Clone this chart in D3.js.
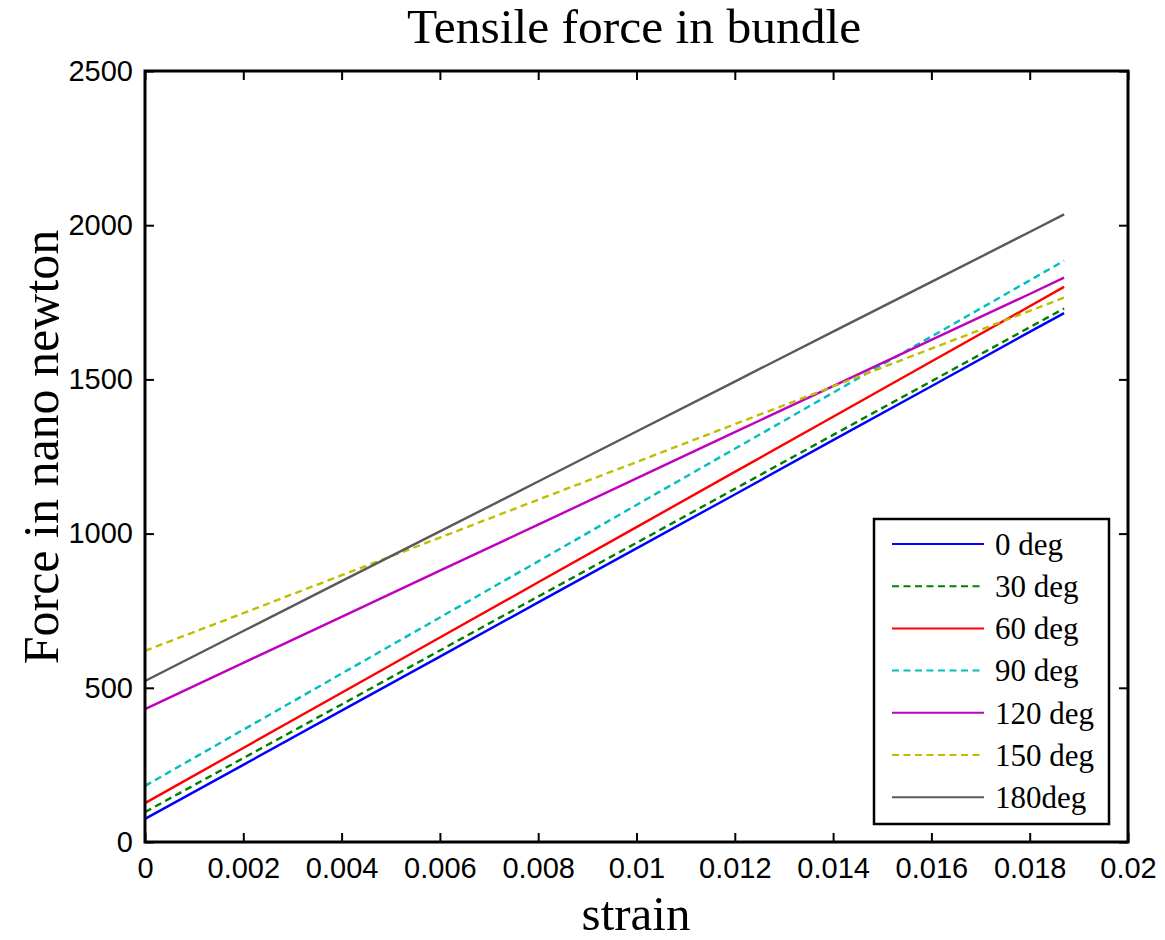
<!DOCTYPE html>
<html>
<head>
<meta charset="utf-8">
<script src="https://cdn.jsdelivr.net/npm/d3@7"></script>
<style>
  html, body { margin: 0; padding: 0; background: #fff; }
  svg { display: block; }
</style>
</head>
<body>
<svg id="chart" width="1165" height="940"></svg>
<script>
// ---- data ----
const strain = [0, 0.002, 0.004, 0.006, 0.008, 0.010, 0.012, 0.014, 0.016, 0.018, 0.0187];
const seriesNames = ["0 deg", "30 deg", "60 deg", "90 deg", "120 deg", "150 deg", "180deg"];
const deg0   = [75, 250, 426, 601, 777, 952, 1127, 1303, 1478, 1654, 1715];
const deg30  = [97, 272, 446, 621, 796, 970, 1145, 1320, 1494, 1669, 1730];
const deg60  = [126, 305, 484, 663, 842, 1021, 1200, 1379, 1558, 1737, 1800];
const deg90  = [182, 364, 546, 728, 910, 1093, 1275, 1457, 1639, 1821, 1885];
const deg120 = [431, 581, 730, 880, 1029, 1179, 1329, 1478, 1628, 1777, 1830];
const deg150 = [620, 742, 865, 987, 1110, 1232, 1355, 1477, 1600, 1722, 1765];
const deg180 = [522, 684, 846, 1007, 1169, 1331, 1493, 1655, 1816, 1978, 2035];
const xTicks = [0, 0.002, 0.004, 0.006, 0.008, 0.01, 0.012, 0.014, 0.016, 0.018, 0.02];
const xTickLabels = ["0", "0.002", "0.004", "0.006", "0.008", "0.01", "0.012", "0.014", "0.016", "0.018", "0.02"];
const yTicks = [0, 500, 1000, 1500, 2000, 2500];

const seriesValues = [deg0, deg30, deg60, deg90, deg120, deg150, deg180];
const colors = ["#0000ff", "#008000", "#ff0000", "#00bfbf", "#bf00bf", "#bfbf00", "#595959"];
const dashed = [false, true, false, true, false, true, false];

// ---- layout ----
const svg = d3.select("#chart");
const L = 145, R = 1128, T = 71, B = 842;
const x = d3.scaleLinear().domain([0, 0.02]).range([L, R]);
const y = d3.scaleLinear().domain([0, 2500]).range([B, T]);
const serif = "'Liberation Serif', 'Times New Roman', serif";
const sans = "'Liberation Sans', Arial, sans-serif";

// lines
const line = d3.line().x((d, i) => x(strain[i])).y(d => y(d));
const g = svg.append("g");
seriesValues.forEach((vals, k) => {
  g.append("path")
    .datum(vals)
    .attr("d", line)
    .attr("fill", "none")
    .attr("stroke", colors[k])
    .attr("stroke-width", 2.4)
    .attr("stroke-dasharray", dashed[k] ? "7,4.5" : null);
});

// axes (ticks inward, mirrored)
const tickLen = 9;
const axB = d3.axisBottom(x).tickValues(xTicks).tickSize(-tickLen).tickPadding(15)
  .tickFormat((d, i) => xTickLabels[i]);
const axT = d3.axisTop(x).tickValues(xTicks).tickSize(-tickLen).tickFormat("");
const axLft = d3.axisLeft(y).tickValues(yTicks).tickSize(-tickLen).tickPadding(12)
  .tickFormat(d3.format("d"));
const axRt = d3.axisRight(y).tickValues(yTicks).tickSize(-tickLen).tickFormat("");

function style(sel) {
  sel.select(".domain").remove();
  sel.selectAll(".tick line").attr("stroke", "#000").attr("stroke-width", 2);
  sel.selectAll(".tick text").attr("fill", "#000")
    .style("font-family", sans).style("font-size", "29px");
}
svg.append("g").attr("transform", `translate(0,${B})`).call(axB).call(style);
svg.append("g").attr("transform", `translate(0,${T})`).call(axT).call(style);
svg.append("g").attr("transform", `translate(${L},0)`).call(axLft).call(style);
svg.append("g").attr("transform", `translate(${R},0)`).call(axRt).call(style);

// frame
svg.append("rect")
  .attr("x", L).attr("y", T).attr("width", R - L).attr("height", B - T)
  .attr("fill", "none").attr("stroke", "#000").attr("stroke-width", 3);

// title & labels
svg.append("text").attr("x", 634).attr("y", 43)
  .attr("text-anchor", "middle").style("font-family", serif).style("font-size", "49.5px")
  .text("Tensile force in bundle");
svg.append("text").attr("x", 636).attr("y", 930)
  .attr("text-anchor", "middle").style("font-family", serif).style("font-size", "49px")
  .text("strain");
svg.append("text").attr("transform", `translate(58,${447}) rotate(-90)`)
  .attr("text-anchor", "middle").style("font-family", serif).style("font-size", "50px")
  .text("Force in nano newton");

// legend
const lg = svg.append("g");
lg.append("rect").attr("x", 874).attr("y", 519).attr("width", 235).attr("height", 305)
  .attr("fill", "#fff").attr("stroke", "#000").attr("stroke-width", 2.5);
seriesNames.forEach((name, k) => {
  const yy = 544 + k * 42.2;
  lg.append("line").attr("x1", 892).attr("x2", 984).attr("y1", yy).attr("y2", yy)
    .attr("stroke", colors[k]).attr("stroke-width", 2)
    .attr("stroke-dasharray", dashed[k] ? "7,4.5" : null);
  lg.append("text").attr("x", 995).attr("y", yy).attr("dy", "0.35em")
    .style("font-family", serif).style("font-size", "31px").text(name);
});
</script>
</body>
</html>
